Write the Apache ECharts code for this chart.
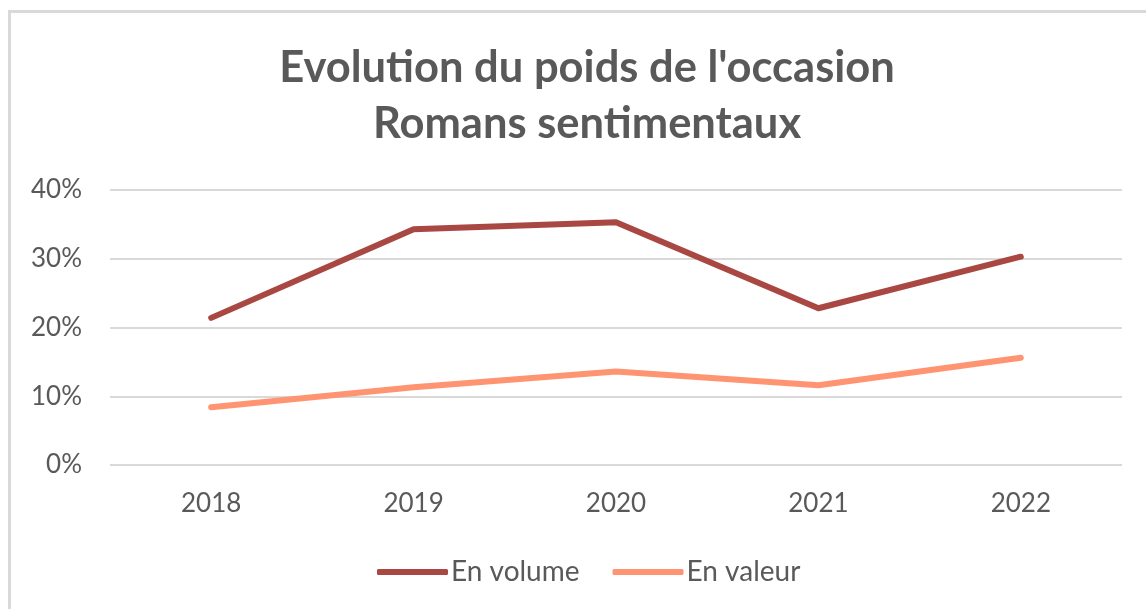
<!DOCTYPE html>
<html>
<head>
<meta charset="utf-8">
<script src="https://cdn.jsdelivr.net/npm/echarts@6/dist/echarts.min.js"></script>
<style>
  html, body { margin: 0; padding: 0; background: #ffffff; }
  #chart { width: 1146px; height: 609px; }
</style>
</head>
<body>
<div id="chart"></div>
<script>
// Years shown on the category axis
const years = ['2018', '2019', '2020', '2021', '2022'];
// Share of second-hand sales, in percent
const enVolume = [21.4, 34.3, 35.3, 22.8, 30.3];
const enValeur = [8.4, 11.3, 13.6, 11.6, 15.6];
const seriesNames = ['En volume', 'En valeur'];

const textGray = '#595959';
const font = 'Lato';

const chart = echarts.init(document.getElementById('chart'));

chart.setOption({
  backgroundColor: '#ffffff',
  animation: false,
  graphic: [{
    type: 'rect',
    shape: { x: 9.5, y: 11.5, width: 1200, height: 700 },
    style: { fill: 'none', stroke: '#d9d9d9', lineWidth: 3 },
    silent: true
  }],
  title: {
    text: "Evolution du poids de l'occasion\nRomans sentimentaux",
    left: 582,
    top: 35,
    textAlign: 'center',
    textStyle: {
      fontFamily: font,
      fontWeight: 'bold',
      fontSize: 43.5,
      lineHeight: 56,
      color: textGray
    }
  },
  legend: {
    data: seriesNames,
    left: 372,
    top: 553,
    itemWidth: 71,
    itemHeight: 6,
    itemGap: 33,
    icon: 'roundRect',
    textStyle: { fontFamily: font, fontSize: 28, color: textGray, padding: [0, 0, 0, -2] }
  },
  grid: { left: 110, right: 24, top: 190, bottom: 144, containLabel: false },
  xAxis: {
    type: 'category',
    data: years,
    boundaryGap: true,
    axisLine: { show: false },
    axisTick: { show: false },
    axisLabel: { fontFamily: font, fontSize: 26, color: textGray, margin: 26 }
  },
  yAxis: {
    type: 'value',
    min: 0,
    max: 40,
    interval: 10,
    axisLine: { show: false },
    axisTick: { show: false },
    axisLabel: {
      fontFamily: font, fontSize: 26, color: textGray, margin: 28,
      formatter: v => v + '%'
    },
    splitLine: { lineStyle: { color: '#d9d9d9', width: 2 } }
  },
  series: [
    {
      name: seriesNames[0],
      type: 'line',
      data: enVolume,
      symbol: 'none',
      color: '#a94743',
      lineStyle: { width: 6, color: '#a94743', cap: 'round', join: 'round' }
    },
    {
      name: seriesNames[1],
      type: 'line',
      data: enValeur,
      symbol: 'none',
      color: '#ff9473',
      lineStyle: { width: 6, color: '#ff9473', cap: 'round', join: 'round' }
    }
  ]
});
</script>
</body>
</html>
